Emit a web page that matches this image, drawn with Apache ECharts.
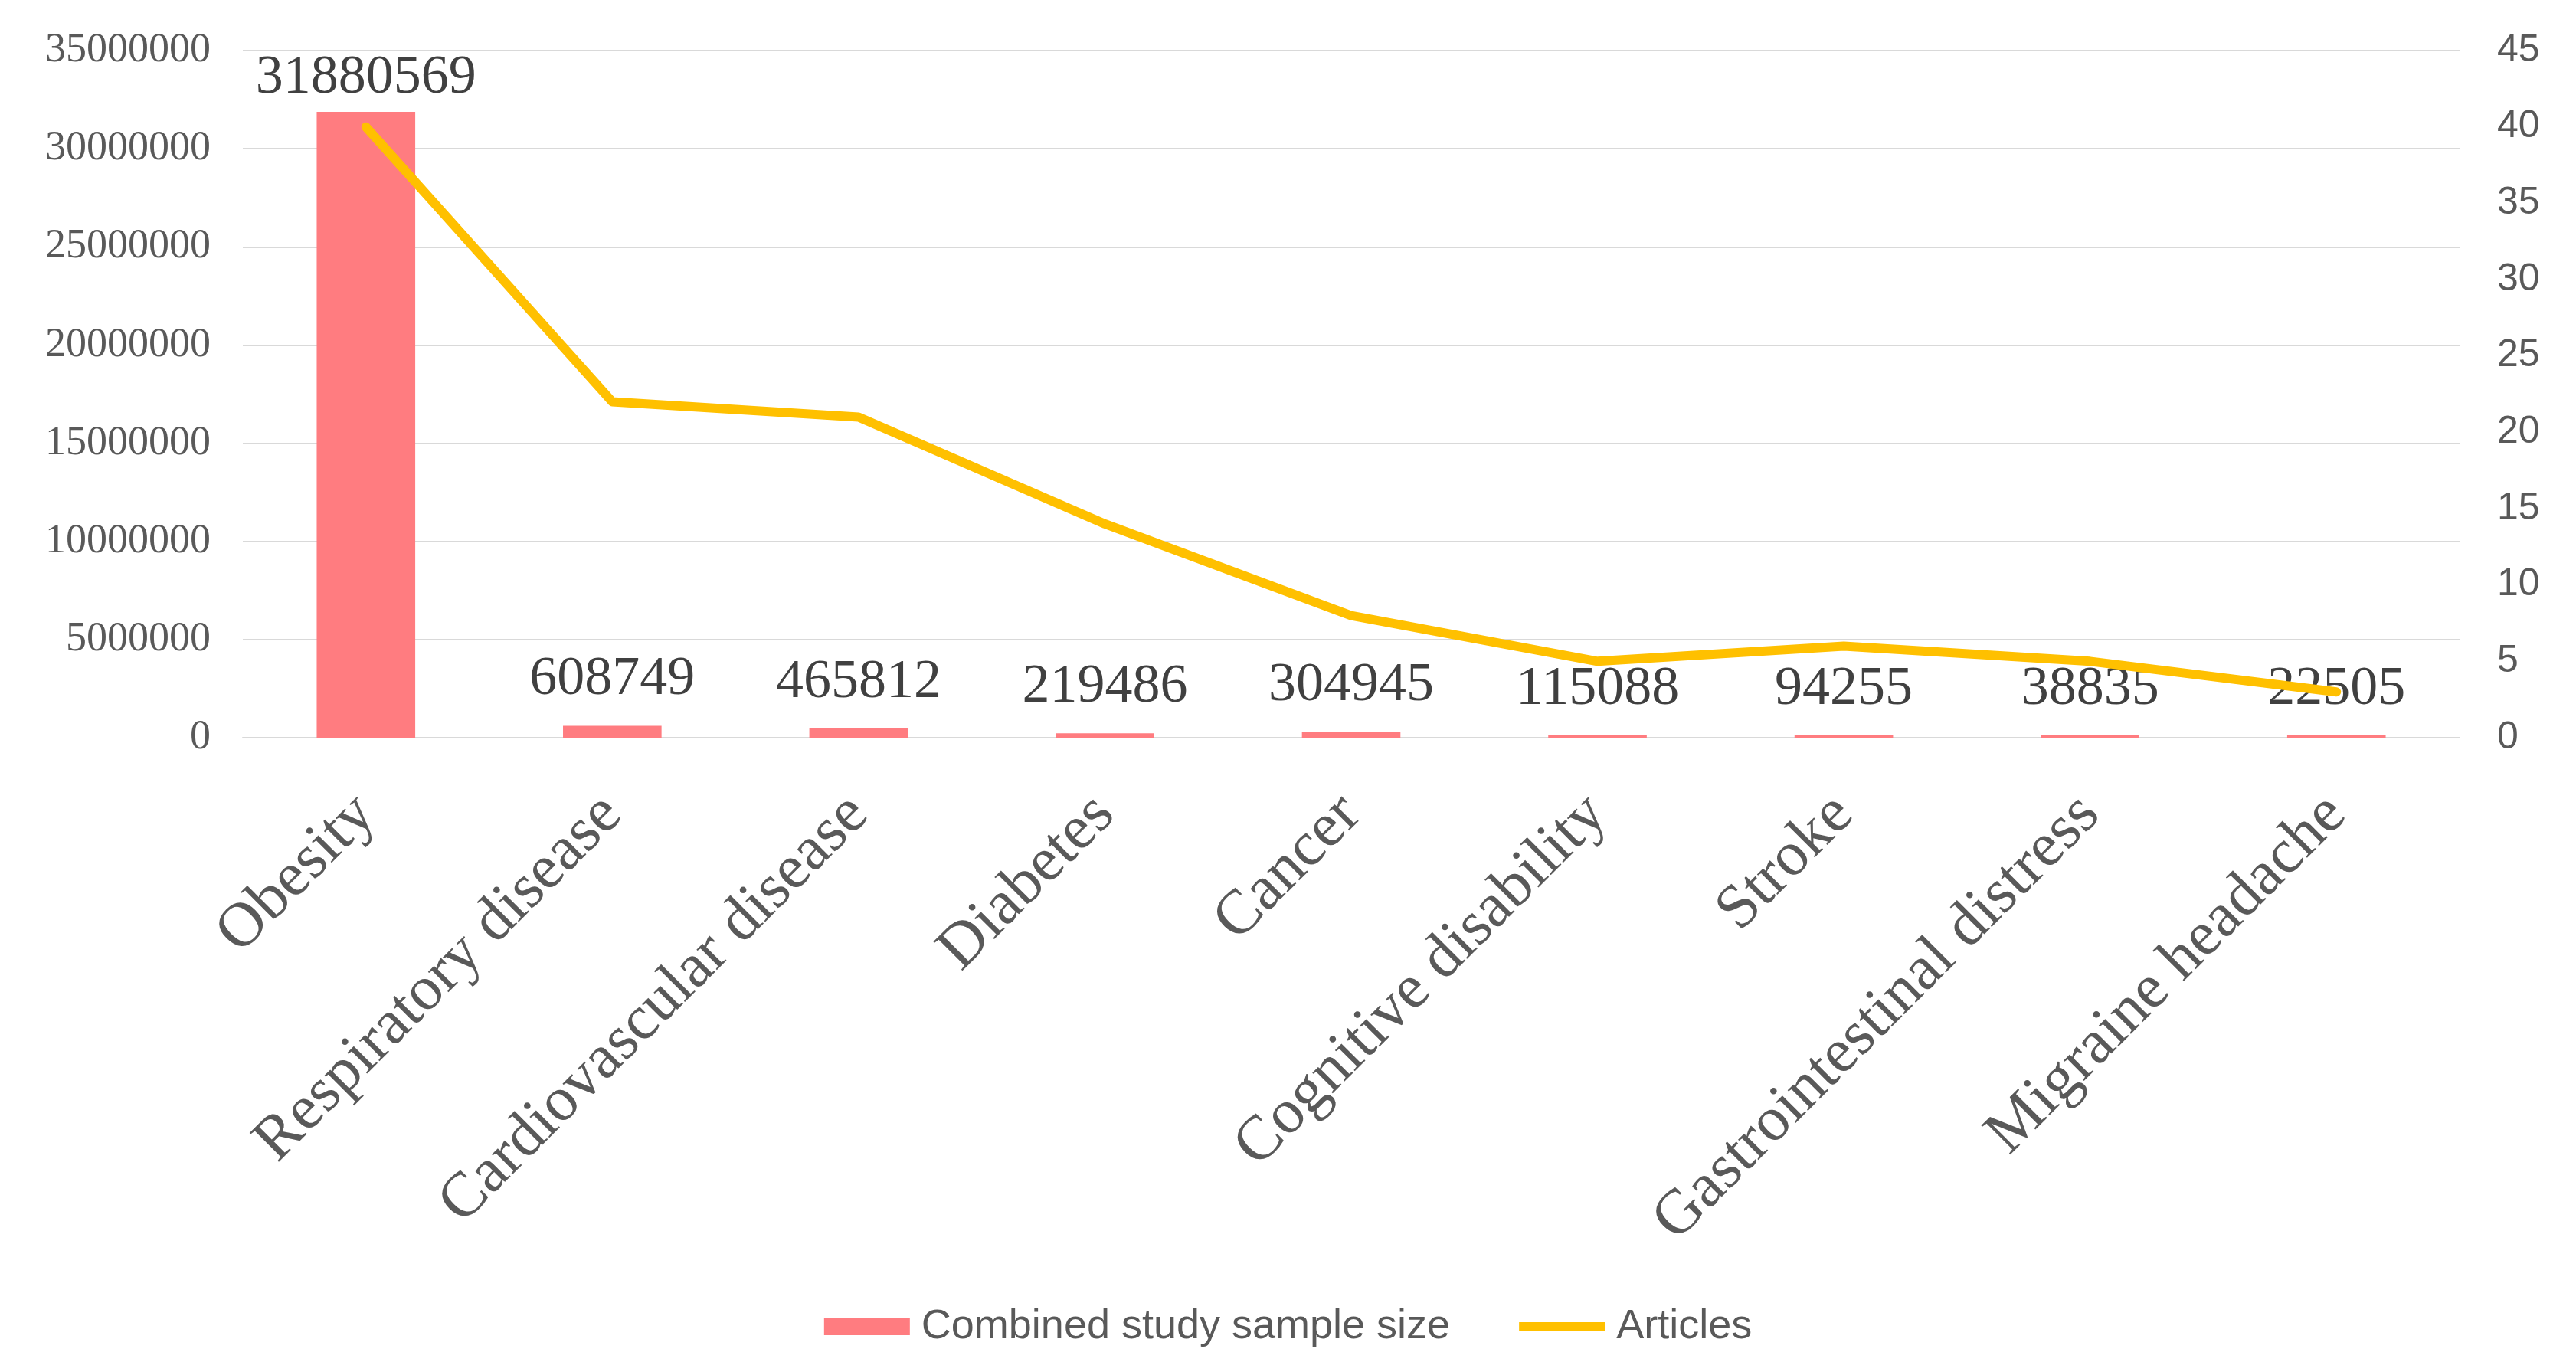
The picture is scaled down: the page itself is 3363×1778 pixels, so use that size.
<!DOCTYPE html>
<html>
<head>
<meta charset="utf-8">
<script src="https://cdn.jsdelivr.net/npm/echarts@6/dist/echarts.min.js"></script>
<style>
  html, body { margin: 0; padding: 0; background: #ffffff; }
  #chart { width: 3363px; height: 1778px; }
</style>
</head>
<body>
<div id="chart"></div>
<script>
// Conditions studied
const categories = [
  'Obesity', 'Respiratory disease', 'Cardiovascular disease', 'Diabetes', 'Cancer',
  'Cognitive disability', 'Stroke', 'Gastrointestinal distress', 'Migraine headache'
];
// Combined study sample size per condition (left axis)
const sampleSize = [31880569, 608749, 465812, 219486, 304945, 115088, 94255, 38835, 22505];
// Number of articles per condition (right axis)
const articles = [40, 22, 21, 14, 8, 5, 6, 5, 3];

const seriesNames = ['Combined study sample size', 'Articles'];

const gridColor = '#d9d9d9';
const textGray = '#595959';
const barColor = '#ff7c80';
const lineColor = '#ffc000';

// The tallest bar's label sits tight against the top of its bar
const barData = sampleSize.map((v, i) =>
  i === 0 ? { value: v, label: { distance: 8 } } : v
);

const chart = echarts.init(document.getElementById('chart'));

chart.setOption({
  animation: false,
  backgroundColor: '#ffffff',
  grid: { left: 317, right: 152, top: 66, bottom: 815, containLabel: false },
  legend: {
    data: [
      { name: seriesNames[0], icon: 'rect' },
      { name: seriesNames[1], icon: 'path://M0,0 L112,0 L112,12 L0,12 Z', itemStyle: { color: lineColor } }
    ],
    bottom: 14,
    left: 'center',
    itemWidth: 112,
    itemHeight: 22,
    itemGap: 90,
    textStyle: { fontFamily: 'Liberation Sans', fontSize: 54, color: textGray, padding: [0, 0, 0, 10] }
  },
  xAxis: {
    type: 'category',
    data: categories,
    axisLine: { lineStyle: { color: gridColor, width: 2 } },
    axisTick: { show: false },
    axisLabel: {
      rotate: 45,
      interval: 0,
      margin: 88,
      fontFamily: 'Liberation Serif',
      fontSize: 82,
      color: textGray
    }
  },
  yAxis: [
    {
      type: 'value',
      min: 0,
      max: 35000000,
      interval: 5000000,
      axisLine: { show: false },
      axisTick: { show: false },
      splitLine: { lineStyle: { color: gridColor, width: 2 } },
      axisLabel: {
        margin: 42,
        fontFamily: 'Liberation Serif',
        fontSize: 54,
        color: textGray,
        formatter: (v) => String(v)
      }
    },
    {
      type: 'value',
      min: 0,
      max: 45,
      interval: 5,
      axisLine: { show: false },
      axisTick: { show: false },
      splitLine: { show: false },
      axisLabel: {
        margin: 49,
        fontFamily: 'Liberation Sans',
        fontSize: 50,
        color: textGray
      }
    }
  ],
  series: [
    {
      name: seriesNames[0],
      type: 'bar',
      yAxisIndex: 0,
      data: barData,
      barWidth: '40%',
      barMinHeight: 3,
      itemStyle: { color: barColor },
      label: {
        show: true,
        position: 'top',
        distance: 24,
        fontFamily: 'Liberation Serif',
        fontSize: 72,
        color: '#404040'
      },
      z: 2
    },
    {
      name: seriesNames[1],
      type: 'line',
      yAxisIndex: 1,
      data: articles,
      symbol: 'none',
      lineStyle: { color: lineColor, width: 12, cap: 'round', join: 'round' },
      itemStyle: { color: lineColor },
      z: 3
    }
  ]
});
</script>
</body>
</html>
